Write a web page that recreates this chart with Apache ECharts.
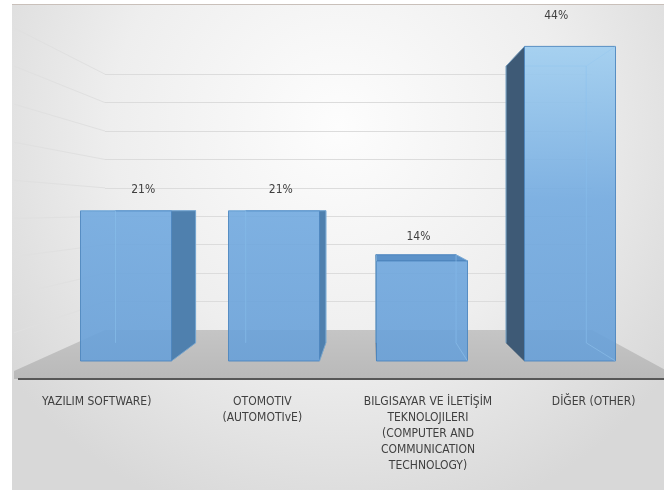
<!DOCTYPE html>
<html>
<head>
<meta charset="utf-8">
<script src="https://cdn.jsdelivr.net/npm/echarts@6/dist/echarts.min.js"></script>
<style>
  html, body { margin: 0; padding: 0; background: #fff; }
  #chart { width: 664px; height: 490px; }
</style>
</head>
<body>
<div id="chart"></div>
<script>
// data
const categories = [
  'YAZILIM SOFTWARE)',
  'OTOMOTIV\n(AUTOMOTIvE)',
  'BILGISAYAR VE İLETİŞİM\nTEKNOLOJILERI\n(COMPUTER AND\nCOMMUNICATION\nTECHNOLOGY)',
  'DİĞER (OTHER)'
];
const shares = [21, 21, 14, 44];
const shareLabels = ['21%', '21%', '14%', '44%'];
const wallTicks = [0, 5, 10, 15, 20, 25, 30, 35, 40, 45];

const chart = echarts.init(document.getElementById('chart'));

// perspective: vanishing point and depth factors
const VP = [372, 210];
const BAR_BACK = 0.88;   // back face of the boxes
const FLOOR_FRONT_Y = 379;
const fontFam = "'Liberation Sans Narrow', 'DejaVu Sans Condensed', 'Noto Sans', sans-serif";
const textColor = '#404040';

const proj = (x, y, k) => [VP[0] + (x - VP[0]) * k, VP[1] + (y - VP[1]) * k];

// front colour gets lighter toward the top of the picture
const frontFill = new echarts.graphic.LinearGradient(0, 40, 0, 361, [
  { offset: 0, color: '#a0cff1' },
  { offset: 0.5, color: '#72aae0' },
  { offset: 1, color: '#68a0d8' }
], true);

function renderBar(params, api) {
  const i = api.value(0);
  const v = api.value(1);
  const base = api.coord([i, 0]);
  const top = api.coord([i, v]);
  const half = 45.5;
  const x0 = base[0] - half, x1 = base[0] + half;
  const yb = base[1], yt = top[1];

  const fTL = [x0, yt], fTR = [x1, yt], fBR = [x1, yb], fBL = [x0, yb];
  const bTL = proj(x0, yt, BAR_BACK), bTR = proj(x1, yt, BAR_BACK);
  const bBR = proj(x1, yb, BAR_BACK), bBL = proj(x0, yb, BAR_BACK);
  const edge = '#4d86bf';
  const kids = [];

  // hidden edges, seen through the glassy box
  kids.push({
    type: 'polyline',
    shape: { points: [bBL, bTL, bTR, bBR] },
    style: { stroke: 'rgba(140,190,235,0.9)', lineWidth: 1, fill: null }
  });

  // side face
  if (x1 < VP[0] - 1) {
    kids.push({
      type: 'polygon',
      shape: { points: [fTR, bTR, bBR, fBR] },
      style: { fill: '#4f80ae', stroke: '#46749f', lineWidth: 0.6 }
    });
  } else if (x0 > VP[0] + 1) {
    kids.push({
      type: 'polygon',
      shape: { points: [fTL, bTL, bBL, fBL] },
      style: { fill: '#3e5a76', stroke: '#36506a', lineWidth: 0.6 }
    });
  }
  // top face when it is below eye level
  if (yt > VP[1] + 1) {
    kids.push({
      type: 'polygon',
      shape: { points: [fTL, bTL, bTR, fTR] },
      style: { fill: '#5c92c9', stroke: '#4a7fb5', lineWidth: 0.8 }
    });
  }
  // front face
  kids.push({
    type: 'rect',
    shape: { x: x0, y: yt, width: x1 - x0, height: yb - yt },
    style: { fill: frontFill, stroke: edge, lineWidth: 1, opacity: 0.9 }
  });
  // inner edges drawn lightly on top of the translucent front
  kids.push({
    type: 'polyline',
    shape: { points: [fTR, bTR, bBR, fBR] },
    style: { stroke: 'rgba(150,200,240,0.5)', lineWidth: 1, fill: null }
  });
  kids.push({
    type: 'polyline',
    shape: { points: [fTL, bTL, bBL] },
    style: { stroke: 'rgba(150,200,240,0.5)', lineWidth: 1, fill: null }
  });

  // value label above the box, pushed further up the farther it is from eye level
  const lc = proj(base[0], yt, 0.93);
  const gap = 21 + Math.abs(yt - VP[1]) * 0.06;
  kids.push({
    type: 'text',
    style: {
      x: lc[0], y: yt - gap, text: shareLabels[i],
      fill: textColor, font: '12px ' + fontFam,
      align: 'center', verticalAlign: 'middle'
    }
  });

  // category label on the front edge of the floor
  const t = (FLOOR_FRONT_Y - VP[1]) / (yb - VP[1]);
  const lx = VP[0] + (base[0] - VP[0]) * t;
  kids.push({
    type: 'text',
    style: {
      x: lx, y: 394, text: categories[i],
      fill: textColor, font: '12px ' + fontFam, lineHeight: 16,
      align: 'center', verticalAlign: 'top'
    }
  });
  return { type: 'group', children: kids };
}

function renderFloor(params, api) {
  const bl = api.coord([0, 0]);
  const br = api.coord([1, 0]);
  const t = (FLOOR_FRONT_Y - VP[1]) / (bl[1] - VP[1]);
  const fl = proj(bl[0], bl[1], t);
  const fr = proj(br[0], br[1], t);
  const pts = [bl, br, fr];
  const minX = 14;
  if (fl[0] < minX) {
    const yAt = bl[1] + (minX - bl[0]) * (fl[1] - bl[1]) / (fl[0] - bl[0]);
    pts.push([minX, FLOOR_FRONT_Y], [minX, yAt]);
  } else {
    pts.push(fl);
  }
  return {
    type: 'group',
    children: [
      {
        type: 'polygon',
        shape: { points: pts },
        style: {
          fill: new echarts.graphic.LinearGradient(0, 0, 0, 1, [
            { offset: 0, color: '#c5c5c5' },
            { offset: 1, color: '#b9b9b9' }
          ])
        }
      },
      {
        type: 'line',
        shape: { x1: 18, y1: FLOOR_FRONT_Y, x2: 664, y2: FLOOR_FRONT_Y },
        style: { stroke: '#575757', lineWidth: 2 }
      }
    ]
  };
}

// lines on the left wall running from the back wall toward the viewer
function renderSideGrid(params, api) {
  const v = api.value(0);
  if (v === 0) return { type: 'group', children: [] };
  const p = api.coord([0, v]);
  const k = (14 - VP[0]) / (p[0] - VP[0]);
  const e = proj(p[0], p[1], k);
  return {
    type: 'line',
    shape: { x1: p[0], y1: p[1], x2: e[0], y2: e[1] },
    style: { stroke: '#e0e0e0', lineWidth: 1 }
  };
}

const option = {
  backgroundColor: '#ffffff',
  animation: false,
  graphic: [
    {
      type: 'rect', z: -1,
      shape: { x: 12, y: 5, width: 652, height: 485 },
      style: {
        fill: new echarts.graphic.RadialGradient(0.5, 0.25, 0.85, [
          { offset: 0, color: '#fdfdfd' },
          { offset: 0.55, color: '#eeeeee' },
          { offset: 1, color: '#d8d8d8' }
        ])
      }
    },
    {
      type: 'line', z: -1,
      shape: { x1: 12, y1: 4.5, x2: 664, y2: 4.5 },
      style: { stroke: '#c9c0ba', lineWidth: 1 }
    }
  ],
  grid: [
    // front plane of the boxes
    { left: 52, right: 20, top: 39.25, bottom: 129 },
    // back wall
    { left: 105, right: 72, top: 74.2, bottom: 160 }
  ],
  xAxis: [
    { type: 'category', gridIndex: 0, data: categories, show: false },
    { type: 'value', gridIndex: 1, min: 0, max: 1, show: false }
  ],
  yAxis: [
    { type: 'value', gridIndex: 0, min: 0, max: 45, show: false },
    {
      type: 'value', gridIndex: 1, min: 0, max: 45, interval: 5,
      axisLine: { show: false }, axisTick: { show: false }, axisLabel: { show: false },
      splitLine: { lineStyle: { color: '#dcdcdc', width: 1 } }
    }
  ],
  series: [
    {
      type: 'custom', name: 'sidegrid', xAxisIndex: 1, yAxisIndex: 1,
      renderItem: renderSideGrid, data: wallTicks.map(t => [t]), z: 1, silent: true
    },
    {
      type: 'custom', name: 'floor', xAxisIndex: 1, yAxisIndex: 1,
      renderItem: renderFloor, data: [[0]], z: 2, silent: true
    },
    {
      type: 'custom', name: 'share', xAxisIndex: 0, yAxisIndex: 0,
      renderItem: renderBar, z: 3,
      data: shares.map((v, i) => [i, v])
    }
  ]
};
chart.setOption(option);
</script>
</body>
</html>
